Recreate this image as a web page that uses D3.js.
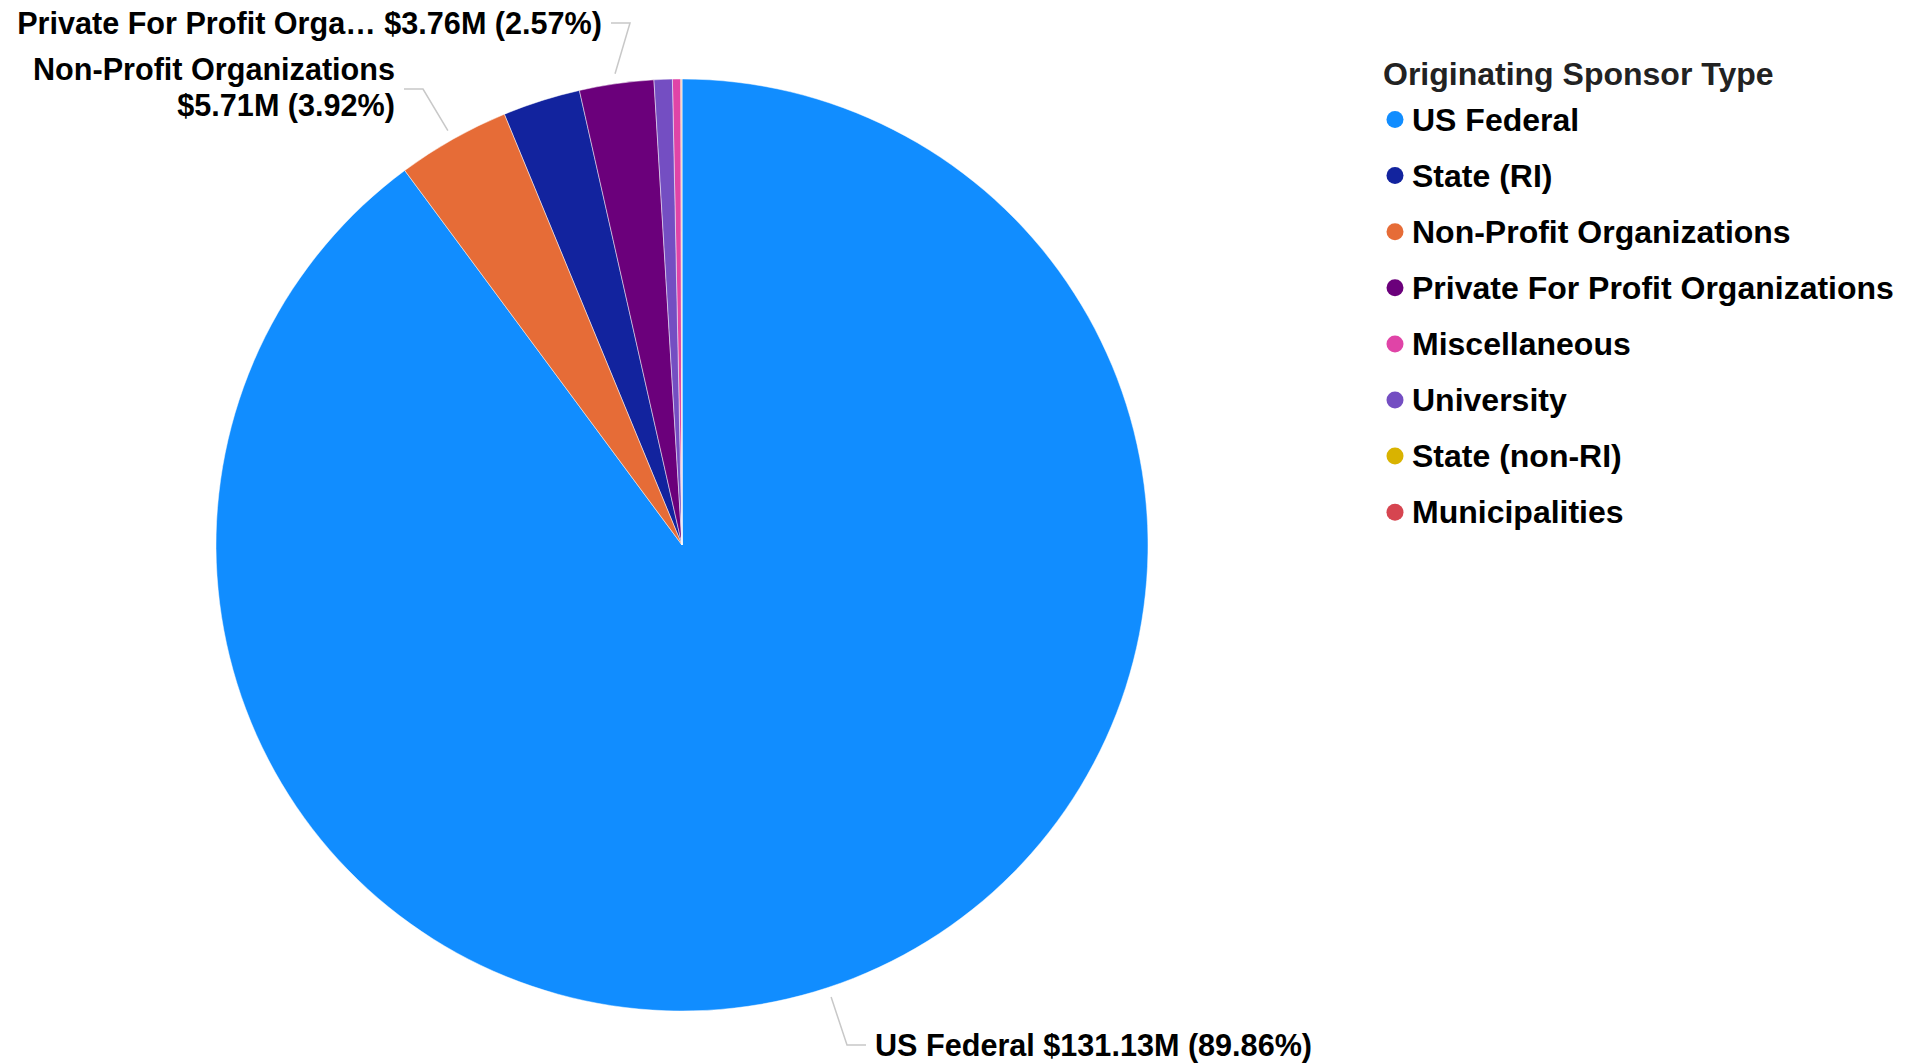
<!DOCTYPE html>
<html>
<head>
<meta charset="utf-8">
<script src="https://cdn.jsdelivr.net/npm/d3@7"></script>
<style>
  body { margin: 0; background: #fff; }
  text { font-family: "Liberation Sans", Arial, sans-serif; font-weight: bold; fill: #000; }
</style>
</head>
<body>
<div id="chart"></div>
<script>
// sponsor types, in legend order
var categories = ["US Federal", "State (RI)", "Non-Profit Organizations", "Private For Profit Organizations",
                  "Miscellaneous", "University", "State (non-RI)", "Municipalities"];
// funding, $M
var values = [131.128, 3.93, 5.714, 3.756, 0.42, 0.92, 0.04, 0.02];
var colors = ["#118DFF", "#12239E", "#E66C37", "#6B007B", "#E044A7", "#744EC2", "#D9B300", "#D64550"];
var legendTitle = "Originating Sponsor Type";

// which slices get a data label, and where the label sits
var labelled = ["US Federal", "Non-Profit Organizations", "Private For Profit Organizations"];
var labelLayout = {
  "US Federal":                       {side: "right", elbow: [847, 1045], lines: 1},
  "Non-Profit Organizations":         {side: "left",  elbow: [423, 89],   lines: 2},
  "Private For Profit Organizations": {side: "left",  elbow: [630, 23],   lines: 1, short: "Private For Profit Orga\u2026"}
};

var W = 1913, H = 1064;
var cx = 682, cy = 545, R = 466;

var svg = d3.select("#chart").append("svg")
    .attr("width", W)
    .attr("height", H);

var total = d3.sum(values);
var data = categories.map(function(c, i) { return {name: c, value: values[i], color: colors[i]}; });

var pie = d3.pie().value(function(d) { return d.value; }); // default sort = descending
var arcs = pie(data);
var arc = d3.arc().innerRadius(0).outerRadius(R);

var g = svg.append("g").attr("transform", "translate(" + cx + "," + cy + ")");

g.selectAll("path.slice")
    .data(arcs)
    .enter()
    .append("path")
    .attr("class", "slice")
    .attr("d", arc)
    .attr("fill", function(d) { return d.data.color; })
    .attr("stroke", "#ffffff")
    .attr("stroke-opacity", 0.6)
    .attr("stroke-width", 0.8);

// data labels with leader lines
var fmtM = function(v) { return "$" + v.toFixed(2) + "M"; };
var fmtP = function(v) { return "(" + (v / total * 100).toFixed(2) + "%)"; };

arcs.filter(function(d) { return labelled.indexOf(d.data.name) >= 0; }).forEach(function(d) {
  var L = labelLayout[d.data.name];
  var mid = (d.startAngle + d.endAngle) / 2;
  var start = [cx + (R + 10) * Math.sin(mid), cy - (R + 10) * Math.cos(mid)];
  var dir = L.side == "right" ? 1 : -1;
  var end = [L.elbow[0] + dir * 19, L.elbow[1]];

  svg.append("polyline")
      .attr("points", [start, L.elbow, end].map(function(p) { return p.join(","); }).join(" "))
      .attr("fill", "none")
      .attr("stroke", "#c8c8c8")
      .attr("stroke-width", 1.5);

  var name = L.short || d.data.name;
  var t = svg.append("text")
      .attr("x", end[0] + dir * 9)
      .attr("text-anchor", L.side == "right" ? "start" : "end")
      .style("font-size", "30.6px");
  if (L.lines == 2) {
    t.append("tspan").attr("x", end[0] + dir * 9).attr("y", end[1] - 9).text(name);
    t.append("tspan").attr("x", end[0] + dir * 9).attr("y", end[1] + 27).text(fmtM(d.data.value) + " " + fmtP(d.data.value));
  } else {
    t.attr("y", end[1] + 10.5)
     .text(name + " " + fmtM(d.data.value) + " " + fmtP(d.data.value));
  }
});

// legend
var lx = 1383, ly = 85;
var legend = svg.append("g").attr("class", "legend");
legend.append("text")
    .attr("x", lx)
    .attr("y", ly)
    .style("font-size", "32px")
    .style("fill", "#222")
    .text(legendTitle);

var items = legend.selectAll("g.item")
    .data(data)
    .enter()
    .append("g")
    .attr("class", "item")
    .attr("transform", function(d, i) { return "translate(0," + (ly + 34.5 + i * 56.1) + ")"; });

items.append("circle")
    .attr("cx", lx + 12)
    .attr("cy", 0)
    .attr("r", 8.5)
    .attr("fill", function(d) { return d.color; });

items.append("text")
    .attr("x", lx + 29)
    .attr("y", 11)
    .style("font-size", "32px")
    .text(function(d) { return d.name; });
</script>
</body>
</html>
